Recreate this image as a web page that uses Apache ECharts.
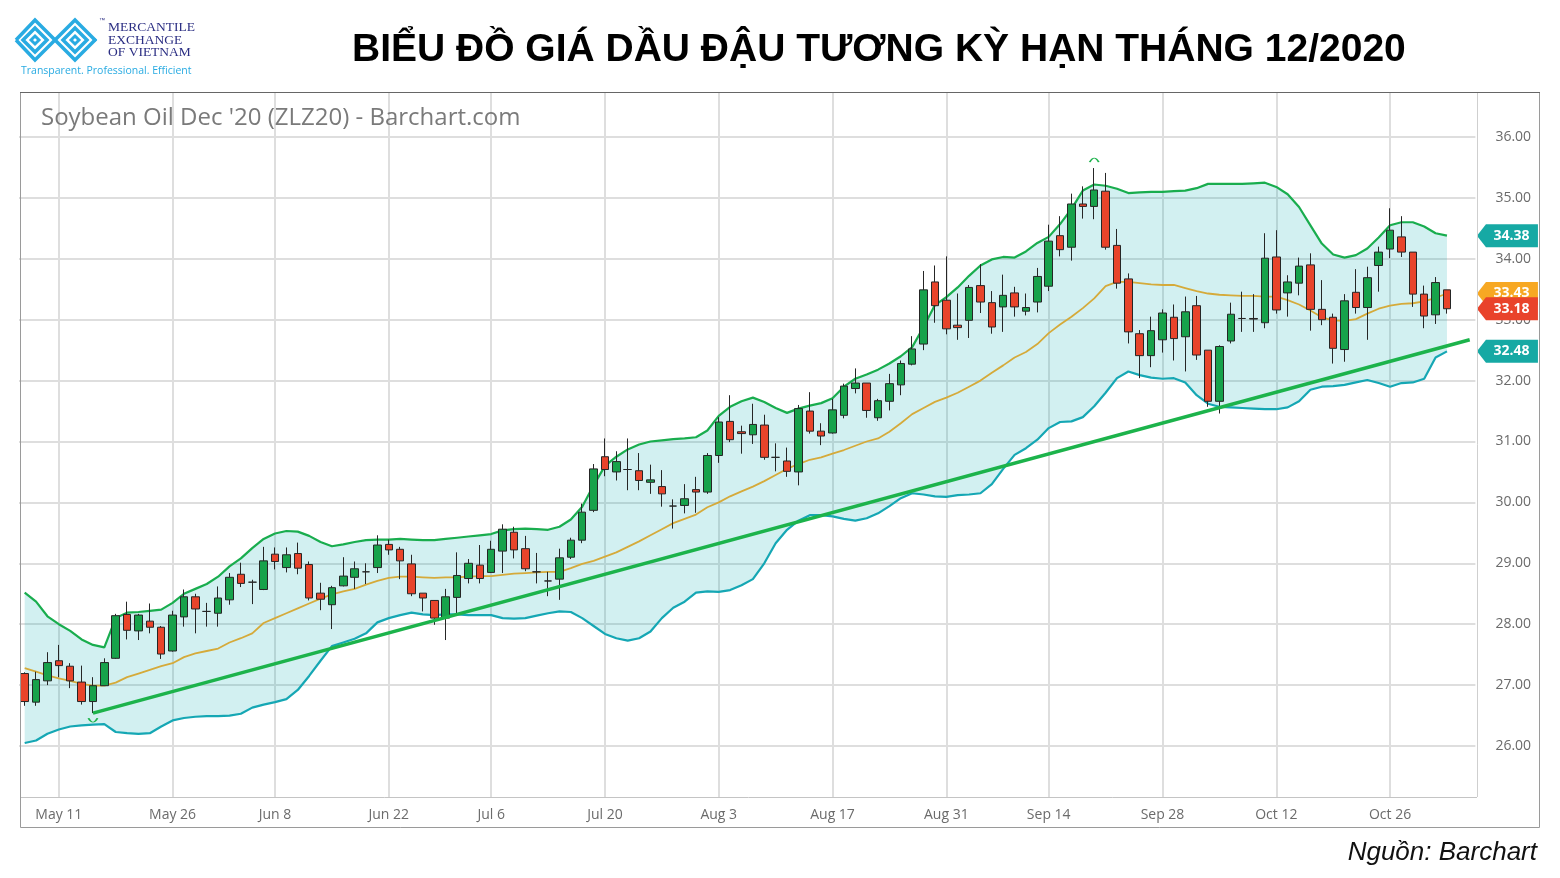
<!DOCTYPE html>
<html><head><meta charset="utf-8">
<script src="https://cdn.jsdelivr.net/npm/echarts@6/dist/echarts.min.js"></script>
<style>html,body{margin:0;padding:0;background:#fff}#c{width:1560px;height:878px}</style>
</head><body><div id="c"></div>
<script>
// ---------- DATA ----------
const categories = [
 'May 6','May 7','May 8','May 11','May 12','May 13','May 14','May 15','May 18','May 19','May 20','May 21','May 22',
 'May 26','May 27','May 28','May 29','Jun 1','Jun 2','Jun 3','Jun 4','Jun 5','Jun 8','Jun 9','Jun 10','Jun 11','Jun 12',
 'Jun 15','Jun 16','Jun 17','Jun 18','Jun 19','Jun 22','Jun 23','Jun 24','Jun 25','Jun 26','Jun 29','Jun 30',
 'Jul 1','Jul 2','Jul 6','Jul 7','Jul 8','Jul 9','Jul 10','Jul 13','Jul 14','Jul 15','Jul 16','Jul 17',
 'Jul 20','Jul 21','Jul 22','Jul 23','Jul 24','Jul 27','Jul 28','Jul 29','Jul 30','Jul 31',
 'Aug 3','Aug 4','Aug 5','Aug 6','Aug 7','Aug 10','Aug 11','Aug 12','Aug 13','Aug 14','Aug 17','Aug 18','Aug 19','Aug 20','Aug 21',
 'Aug 24','Aug 25','Aug 26','Aug 27','Aug 28','Aug 31','Sep 1','Sep 2','Sep 3','Sep 4','Sep 8','Sep 9','Sep 10','Sep 11',
 'Sep 14','Sep 15','Sep 16','Sep 17','Sep 18','Sep 21','Sep 22','Sep 23','Sep 24','Sep 25','Sep 28','Sep 29','Sep 30',
 'Oct 1','Oct 2','Oct 5','Oct 6','Oct 7','Oct 8','Oct 9','Oct 12','Oct 13','Oct 14','Oct 15','Oct 16',
 'Oct 19','Oct 20','Oct 21','Oct 22','Oct 23','Oct 26','Oct 27','Oct 28','Oct 29','Oct 30','Nov 2'
];
const xTickLabels = ['May 11','May 26','Jun 8','Jun 22','Jul 6','Jul 20','Aug 3','Aug 17','Aug 31','Sep 14','Sep 28','Oct 12','Oct 26'];

const open = [27.19,26.72,27.07,27.40,27.31,27.05,26.73,26.99,27.44,28.16,27.89,28.05,27.95,27.56,28.12,28.45,28.21,28.18,28.40,28.82,
 28.69,28.57,29.15,28.93,29.16,28.98,28.51,28.32,28.63,28.77,28.86,28.93,29.31,29.23,28.99,28.51,28.39,28.10,28.44,28.75,
 28.97,28.85,29.20,29.51,29.24,28.86,28.71,28.74,29.10,29.38,29.87,30.75,30.50,30.54,30.52,30.33,30.26,29.94,29.95,30.21,
 30.17,30.77,31.33,31.16,31.11,31.27,30.74,30.68,30.50,31.50,31.17,31.14,31.43,31.87,31.96,31.39,31.66,31.93,32.27,32.60,
 33.62,33.32,32.91,32.99,33.56,33.28,33.21,33.44,33.14,33.29,33.55,34.38,34.19,34.90,34.86,35.11,34.22,33.67,32.77,32.41,
 32.67,33.04,32.72,33.23,32.50,31.66,32.65,33.02,33.02,32.95,34.03,33.44,33.60,33.90,33.17,33.04,32.51,33.45,33.20,33.89,
 34.16,34.36,34.11,33.42,33.08,33.49];
const high = [27.21,27.22,27.54,27.66,27.36,27.32,27.13,27.44,28.17,28.37,28.17,28.34,27.97,28.22,28.57,28.50,28.35,28.62,28.84,29.01,
 28.73,29.27,29.26,29.26,29.34,29.03,28.68,28.63,29.10,29.03,29.00,29.46,29.39,29.27,29.14,28.51,28.39,28.58,29.18,29.07,
 29.30,29.37,29.64,29.60,29.45,29.17,28.86,29.24,29.42,29.98,30.63,31.05,30.84,31.05,30.81,30.62,30.53,30.05,30.30,30.42,
 30.81,31.40,31.76,31.26,31.62,31.44,30.97,30.90,31.60,31.81,31.30,31.70,31.95,32.20,31.96,31.70,32.11,32.33,32.73,33.80,
 33.89,34.04,33.43,33.57,33.91,33.47,33.74,33.54,33.43,33.85,34.56,34.70,35.07,35.19,35.49,35.41,34.49,33.76,32.83,33.05,
 33.17,33.25,33.38,33.39,32.50,32.58,33.28,33.46,33.42,34.42,34.47,33.73,34.02,34.09,33.65,33.10,33.42,33.83,33.87,34.20,
 34.83,34.70,34.11,33.56,33.70,33.49];
const low = [26.66,26.66,27.00,27.13,26.95,26.68,26.54,26.99,27.43,27.75,27.74,27.85,27.43,27.55,27.96,27.85,27.96,27.96,28.32,28.61,
 28.33,28.56,28.90,28.85,28.82,28.39,28.23,27.92,28.62,28.58,28.66,28.84,29.14,28.74,28.46,28.21,27.99,27.74,28.18,28.67,
 28.67,28.84,28.84,29.08,28.87,28.67,28.46,28.40,29.07,29.33,29.84,30.43,30.36,30.20,30.20,30.14,29.93,29.57,29.82,29.83,
 30.14,30.65,30.99,30.80,30.96,30.70,30.51,30.42,30.28,31.13,30.94,31.13,31.38,31.79,31.39,31.34,31.51,31.76,32.25,32.50,
 32.95,32.76,32.67,32.70,33.11,32.77,32.80,33.05,33.07,33.12,33.47,34.04,33.97,34.66,34.65,34.15,33.51,32.61,32.04,32.22,
 32.46,32.33,32.15,32.34,31.57,31.46,32.61,32.80,32.80,32.86,33.10,33.05,33.40,32.82,32.91,32.28,32.31,33.10,32.67,33.46,
 34.01,34.03,33.21,32.86,32.93,33.10];
const close = [26.73,27.09,27.37,27.32,27.07,26.73,26.99,27.37,28.14,27.90,28.15,27.95,27.51,28.15,28.45,28.25,28.21,28.43,28.77,28.67,
 28.69,29.04,29.03,29.14,28.92,28.43,28.41,28.60,28.79,28.91,28.86,29.30,29.22,29.04,28.50,28.43,28.10,28.45,28.80,29.00,
 28.75,29.23,29.56,29.22,28.91,28.86,28.71,29.09,29.38,29.84,30.55,30.54,30.67,30.54,30.36,30.37,30.14,29.94,30.06,30.17,
 30.77,31.32,31.03,31.13,31.28,30.74,30.74,30.51,31.54,31.17,31.09,31.52,31.91,31.96,31.51,31.67,31.95,32.28,32.52,33.49,
 33.23,32.85,32.87,33.53,33.29,32.88,33.40,33.21,33.20,33.71,34.29,34.15,34.90,34.86,35.13,34.19,33.60,32.80,32.41,32.82,
 33.11,32.69,33.13,32.42,31.66,32.56,33.09,33.02,33.01,34.01,33.16,33.62,33.88,33.17,33.00,32.53,33.31,33.20,33.69,34.11,
 34.47,34.11,33.42,33.06,33.61,33.18];

const upperBand = [28.52,28.37,28.13,28.00,27.89,27.75,27.66,27.62,28.10,28.19,28.20,28.22,28.24,28.35,28.50,28.58,28.66,28.78,28.95,29.08,
 29.25,29.40,29.49,29.53,29.52,29.45,29.35,29.28,29.31,29.35,29.38,29.39,29.39,29.40,29.39,29.38,29.38,29.40,29.42,29.44,
 29.46,29.48,29.54,29.56,29.57,29.56,29.55,29.60,29.72,29.93,30.28,30.60,30.75,30.87,30.95,31.00,31.02,31.04,31.05,31.07,
 31.18,31.42,31.57,31.66,31.72,31.65,31.55,31.47,31.54,31.59,31.63,31.71,31.90,32.03,32.10,32.18,32.28,32.40,32.55,32.88,
 33.24,33.37,33.53,33.72,33.89,33.99,34.03,34.02,34.12,34.26,34.36,34.57,34.82,35.12,35.22,35.20,35.15,35.08,35.09,35.10,
 35.10,35.11,35.12,35.16,35.23,35.23,35.23,35.23,35.24,35.25,35.18,35.06,34.85,34.55,34.25,34.07,34.02,34.06,34.17,34.35,
 34.55,34.60,34.60,34.53,34.42,34.38];
const middleBand = [27.28,27.22,27.16,27.11,27.07,27.02,26.99,26.99,27.04,27.13,27.19,27.25,27.31,27.36,27.46,27.52,27.56,27.60,27.70,27.77,
 27.85,28.02,28.10,28.18,28.26,28.34,28.42,28.49,28.54,28.58,28.65,28.71,28.76,28.78,28.78,28.77,28.76,28.77,28.77,28.78,
 28.79,28.79,28.81,28.83,28.84,28.85,28.86,28.86,28.92,28.99,29.04,29.11,29.18,29.27,29.36,29.46,29.56,29.66,29.73,29.80,
 29.92,30.00,30.10,30.18,30.26,30.35,30.45,30.55,30.63,30.70,30.74,30.80,30.86,30.93,31.00,31.05,31.16,31.30,31.45,31.55,
 31.65,31.72,31.80,31.90,32.00,32.13,32.25,32.38,32.47,32.60,32.78,32.92,33.05,33.19,33.35,33.55,33.62,33.62,33.60,33.58,
 33.57,33.57,33.52,33.47,33.43,33.41,33.40,33.39,33.39,33.38,33.38,33.32,33.25,33.15,33.04,32.99,32.98,33.01,33.10,33.18,
 33.23,33.26,33.27,33.30,33.36,33.43];
const lowerBand = [26.05,26.09,26.20,26.27,26.32,26.34,26.35,26.36,26.23,26.21,26.20,26.21,26.32,26.42,26.46,26.48,26.49,26.49,26.50,26.53,
 26.63,26.68,26.72,26.77,26.92,27.15,27.40,27.64,27.70,27.76,27.85,28.03,28.10,28.15,28.19,28.16,28.15,28.16,28.16,28.15,
 28.15,28.15,28.10,28.09,28.10,28.14,28.18,28.21,28.20,28.10,27.97,27.84,27.77,27.73,27.77,27.88,28.10,28.27,28.37,28.52,
 28.54,28.53,28.56,28.64,28.74,29.00,29.33,29.55,29.70,29.79,29.79,29.77,29.73,29.70,29.74,29.82,29.94,30.07,30.15,30.13,
 30.10,30.09,30.12,30.13,30.15,30.30,30.55,30.78,30.89,31.03,31.22,31.32,31.33,31.40,31.58,31.80,32.04,32.15,32.09,32.05,
 32.03,32.04,31.97,31.76,31.62,31.57,31.56,31.55,31.54,31.53,31.53,31.56,31.66,31.85,31.90,31.91,31.93,31.97,32.01,31.96,
 31.90,31.96,31.97,32.03,32.38,32.48];

// trend line anchors: [category index, price]
const trendLine = [[6, 26.54], [127, 32.67]];

// ---------- CHART ----------
const chart = echarts.init(document.getElementById('c'), null, {renderer: 'canvas'});
const N = categories.length;
const axisCats = categories.concat(['\u200b', '\u200b\u200b']);
const showTick = (i, name) => xTickLabels.indexOf(name) >= 0;
const candles = categories.map((_, i) => [open[i], close[i], low[i], high[i]]);
const bandWidth = upperBand.map((u, i) => +(u - lowerBand[i]).toFixed(3));
const last = N - 1;
const tagPath = 'path://M0,11.5L9,0L61,0L61,23L9,23Z';
const FONT = 'Open Sans';
function tag(value, color, z) {
  return {
    symbol: tagPath, symbolSize: [61, 23], symbolOffset: [60.5, 0], z: z,
    label: {show: true, formatter: p => p.value.toFixed(2), color: '#fff', fontWeight: 'bold',
            fontSize: 14, fontFamily: FONT, offset: [4, 0]},
    itemStyle: {color: color},
    data: [{coord: [last, value], value: value}]
  };
}

const cyan = '#29abe2';
const logo = [];
const zig = (pts) => ({type: 'polyline', shape: {points: pts}, style: {stroke: cyan, lineWidth: 3.5, fill: null}, z: 120});
logo.push(zig([[16,40],[35,20],[55,40],[75,20],[96,41]]));
logo.push(zig([[16,40],[35,60],[55,40],[75,60],[96,39]]));
logo.push({type: 'polygon', shape: {points: [[35,28],[47,40],[35,52],[23,40]]}, style: {stroke: cyan, lineWidth: 3.5, fill: null}, z: 120});
logo.push({type: 'polygon', shape: {points: [[75,28],[87,40],[75,52],[63,40]]}, style: {stroke: cyan, lineWidth: 3.5, fill: null}, z: 120});
logo.push({type: 'polygon', shape: {points: [[35,36],[39,40],[35,44],[31,40]]}, style: {stroke: cyan, lineWidth: 3, fill: null}, z: 120});
logo.push({type: 'polygon', shape: {points: [[75,36],[79,40],[75,44],[71,40]]}, style: {stroke: cyan, lineWidth: 3, fill: null}, z: 120});

const serif = 'Liberation Serif';
const option = {
  animation: false,
  backgroundColor: '#fff',
  title: {
    text: 'BIỂU ĐỒ GIÁ DẦU ĐẬU TƯƠNG KỲ HẠN THÁNG 12/2020',
    left: 347, top: 26,
    textStyle: {fontFamily: 'Liberation Sans', fontWeight: 'bold', fontSize: 39, color: '#000'}
  },
  grid: {left: 19, right: 84.6, top: 76.1, bottom: 71.1, containLabel: false},
  xAxis: {
    type: 'category', data: axisCats, boundaryGap: true,
    axisLine: {show: false}, axisTick: {show: false, alignWithLabel: true},
    axisLabel: {interval: showTick, color: '#6b6b6b', fontSize: 14, fontFamily: FONT, margin: 1},
    splitLine: {show: true, interval: showTick, alignWithLabel: true, lineStyle: {color: '#dedede', width: 2}}
  },
  yAxis: {
    type: 'value', position: 'right', min: 25, max: 37, interval: 1, scale: true,
    axisLine: {show: false}, axisTick: {show: false},
    axisLabel: {showMinLabel: false, showMaxLabel: false, formatter: v => v.toFixed(2),
                color: '#6b6b6b', fontSize: 14, fontFamily: FONT, margin: 20},
    splitLine: {show: true, showMinLine: false, showMaxLine: false, lineStyle: {color: '#dedede', width: 2}}
  },
  series: [
    {name: 'bandBase', type: 'line', stack: 'band', data: lowerBand, symbol: 'none',
     lineStyle: {opacity: 0}, silent: true, z: 1},
    {name: 'bandFill', type: 'line', stack: 'band', data: bandWidth, symbol: 'none',
     lineStyle: {opacity: 0}, areaStyle: {color: 'rgba(0,170,176,0.25)'}, silent: true, z: 1},
    {name: 'Middle', type: 'line', data: middleBand, symbol: 'none',
     lineStyle: {color: '#d5aa3a', width: 1.8}, z: 3, markPoint: tag(middleBand[last], '#f7a823', 5)},
    {name: 'Upper', type: 'line', data: upperBand, symbol: 'none',
     lineStyle: {color: '#19ad4e', width: 2.2}, z: 3, markPoint: tag(upperBand[last], '#16a9a4', 5)},
    {name: 'Lower', type: 'line', data: lowerBand, symbol: 'none',
     lineStyle: {color: '#15a7b4', width: 2.2}, z: 3, markPoint: tag(lowerBand[last], '#16a9a4', 5)},
    {name: 'Trend', type: 'line', data: trendLine, symbol: 'none',
     lineStyle: {color: '#1cb34b', width: 3.5}, z: 6},
    {name: 'ZLZ20', type: 'candlestick', data: candles, barWidth: 8, z: 5,
     itemStyle: {color: '#17a24b', color0: '#e8442b', borderColor: '#262626', borderColor0: '#262626', borderWidth: 1},
     markPoint: {
       symbol: 'path://M0,0Q5,6,10,0', symbolSize: [9, 4], z: 4,
       label: {show: false},
       itemStyle: {color: 'rgba(0,0,0,0)', borderColor: '#1cb34b', borderWidth: 1.3},
       data: [
         {coord: [6, low[6]], symbolOffset: [0, 7]},
         {coord: [94, high[94]], symbol: 'path://M0,6Q5,0,10,6', symbolOffset: [0, -8]}
       ]
     }},
    {name: 'Close', type: 'line', data: [], markPoint: tag(close[last], '#e9432b', 8)}
  ],
  graphic: [
    {type: 'rect', shape: {x: 10, y: 75, width: 1472, height: 17}, style: {fill: '#fff'}, z: 100, silent: true},
    {type: 'rect', shape: {x: 10, y: 798, width: 1472, height: 10}, style: {fill: '#fff'}, z: 100, silent: true},
    {type: 'line', shape: {x1: 20, y1: 797.5, x2: 1477, y2: 797.5}, style: {stroke: '#c4c4c4', lineWidth: 1}, z: 110},
    {type: 'line', shape: {x1: 1477.5, y1: 92, x2: 1477.5, y2: 797}, style: {stroke: '#cfcfcf', lineWidth: 1}, z: 110},
    {type: 'rect', shape: {x: 20.5, y: 92.5, width: 1519, height: 735}, style: {fill: null, stroke: '#9a9a9a', lineWidth: 1}, z: 110},
    {type: 'line', shape: {x1: 20, y1: 92.5, x2: 1540, y2: 92.5}, style: {stroke: '#666', lineWidth: 1}, z: 111},
    {type: 'text', x: 41, y: 118, style: {text: "Soybean Oil Dec '20 (ZLZ20) - Barchart.com", fill: '#7a7a7a',
      font: '24px "Open Sans"', textVerticalAlign: 'middle'}, z: 110},
    {type: 'text', x: 1537, y: 853, style: {text: 'Nguồn: Barchart', fill: '#111', textAlign: 'right',
      font: 'italic 26px "Liberation Sans"', textVerticalAlign: 'middle'}, z: 110},
    {type: 'text', x: 108, y: 27, style: {text: 'MERCANTILE', fill: '#2b2e83', font: '13.5px "' + serif + '"', textVerticalAlign: 'middle'}, z: 120},
    {type: 'text', x: 108, y: 40, style: {text: 'EXCHANGE', fill: '#2b2e83', font: '13.5px "' + serif + '"', textVerticalAlign: 'middle'}, z: 120},
    {type: 'text', x: 108, y: 52, style: {text: 'OF VIETNAM', fill: '#2b2e83', font: '13.5px "' + serif + '"', textVerticalAlign: 'middle'}, z: 120},
    {type: 'text', x: 99, y: 20, style: {text: '™', fill: '#2b2e83', font: '6px "Liberation Sans"', textVerticalAlign: 'middle'}, z: 120},
    {type: 'text', x: 21, y: 71, style: {text: 'Transparent. Professional. Efficient', fill: cyan, font: '10.5px "Open Sans"', textVerticalAlign: 'middle'}, z: 120}
  ].concat(logo)
};
chart.setOption(option);
</script>
</body></html>
